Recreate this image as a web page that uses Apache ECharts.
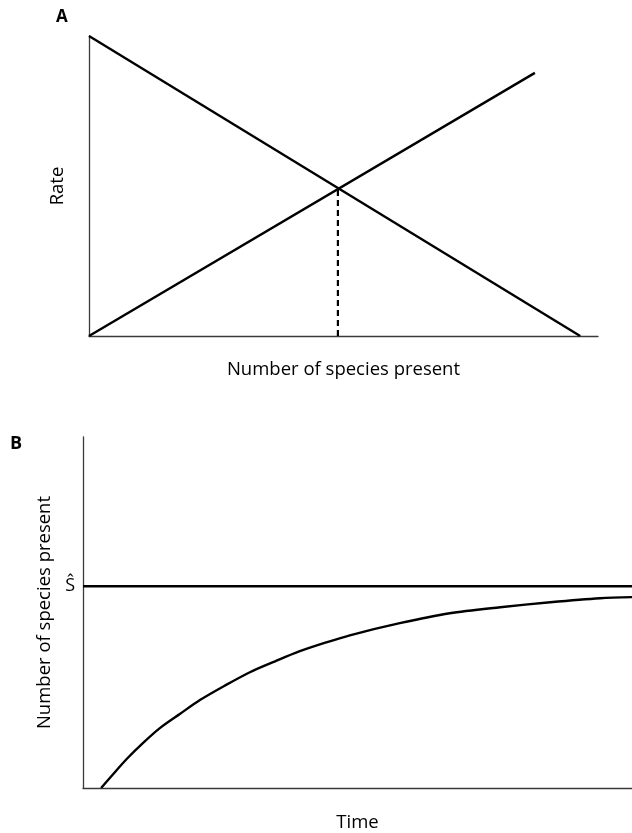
<!DOCTYPE html>
<html>
<head>
<meta charset="utf-8">
<script src="https://cdn.jsdelivr.net/npm/echarts@6/dist/echarts.min.js"></script>
<style>
  html, body { margin: 0; padding: 0; background: #fff; }
  #chart { width: 632px; height: 833px; }
</style>
</head>
<body>
<div id="chart"></div>
<script>
// Panel A: immigration and extinction rates vs. number of species present
const immigrationRate = [[0, 100], [96.5, 0]];
const extinctionRate = [[0, 0], [87.6, 87.7]];
const equilibriumDrop = [[48.9, 0], [48.9, 49.3]];

// Panel B: approach to equilibrium species number over time
const equilibriumLevel = 10;
const equilibriumLine = [[0, 10], [100, 10]];
const speciesOverTime = [
  [3.3, 0], [5.6, 0.72], [8.0, 1.45], [11.0, 2.25], [14.0, 2.97],
  [17.7, 3.68], [21.3, 4.36], [25.8, 5.07], [30.4, 5.74], [35.0, 6.28],
  [39.5, 6.78], [44.0, 7.19], [48.6, 7.57], [57.7, 8.17], [66.8, 8.66],
  [76.0, 8.96], [85.1, 9.21], [94.2, 9.41], [100, 9.46]
];

const panelTitles = ['A', 'B'];
const axisNames = {
  aX: 'Number of species present',
  aY: 'Rate',
  bX: 'Time',
  bY: 'Number of species present'
};
const equilibriumSymbol = 'Ŝ';

const FONT = '"Open Sans", "Noto Sans", sans-serif';
const axisLineStyle = { color: '#3a3a3a', width: 1.3 };
const curveStyle = { color: '#000', width: 2.4 };
const nameStyle = { fontFamily: FONT, fontSize: 18.5, color: '#000' };

const chart = echarts.init(document.getElementById('chart'), null, { renderer: 'canvas' });

function plainAxis(extra) {
  return Object.assign({
    type: 'value',
    axisLine: { show: true, onZero: false, lineStyle: axisLineStyle },
    axisTick: { show: false },
    axisLabel: { show: false },
    splitLine: { show: false },
    nameLocation: 'middle',
    nameTextStyle: nameStyle
  }, extra);
}

function lineSeries(data, xi, yi, style, extra) {
  return Object.assign({
    type: 'line',
    xAxisIndex: xi,
    yAxisIndex: yi,
    data: data,
    symbol: 'none',
    lineStyle: style,
    silent: true,
    animation: false
  }, extra || {});
}

chart.setOption({
  animation: false,
  backgroundColor: '#fff',
  title: [
    { text: panelTitles[0], left: 51, top: 4,
      textStyle: { fontFamily: FONT, fontSize: 17, fontWeight: 'bold', color: '#000' } },
    { text: panelTitles[1], left: 5, top: 430,
      textStyle: { fontFamily: FONT, fontSize: 18, fontWeight: 'bold', color: '#000' } }
  ],
  grid: [
    { left: 89, top: 36, width: 509, height: 300 },
    { left: 83, top: 437, width: 549, height: 351 }
  ],
  xAxis: [
    plainAxis({ gridIndex: 0, min: 0, max: 100, name: axisNames.aX, nameGap: 24 }),
    plainAxis({ gridIndex: 1, min: 0, max: 100, name: axisNames.bX, nameGap: 25 })
  ],
  yAxis: [
    plainAxis({ gridIndex: 0, min: 0, max: 100, name: axisNames.aY, nameGap: 22 }),
    plainAxis({
      gridIndex: 1, min: 0, max: 17.4, name: axisNames.bY, nameGap: 28,
      axisLabel: {
        show: true,
        customValues: [equilibriumLevel],
        formatter: () => equilibriumSymbol,
        fontFamily: FONT, fontSize: 18, color: '#000', margin: 8
      }
    })
  ],
  series: [
    lineSeries(immigrationRate, 0, 0, curveStyle),
    lineSeries(extinctionRate, 0, 0, curveStyle),
    lineSeries(equilibriumDrop, 0, 0, { color: '#000', width: 2.2, type: [6, 4] }),
    lineSeries(equilibriumLine, 1, 1, curveStyle),
    lineSeries(speciesOverTime, 1, 1, curveStyle, { smooth: 0.3 })
  ]
});
</script>
</body>
</html>
